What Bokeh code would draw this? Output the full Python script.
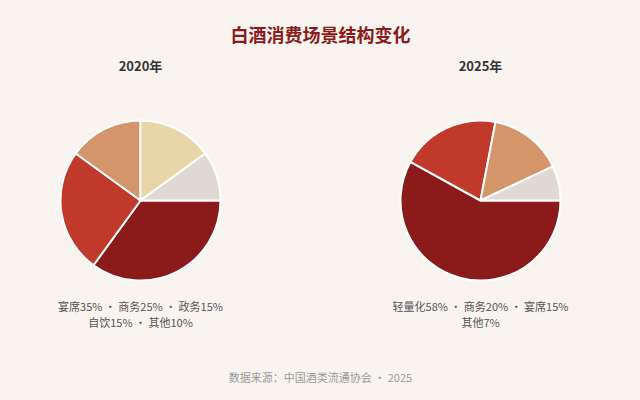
import math
from bokeh.plotting import figure
from bokeh.models import Range1d, ColumnDataSource
from bokeh.core.properties import value
from bokeh.embed import file_html
from bokeh.resources import INLINE

# ---- data ----
title_text = "白酒消费场景结构变化"
source_text = "数据来源：中国酒类流通协会 · 2025"

years = ["2020年", "2025年"]
cats_2020 = ["宴席", "商务", "政务", "自饮", "其他"]
vals_2020 = [35, 25, 15, 15, 10]
colors_2020 = ["#8b1a1a", "#c0392b", "#d4956b", "#e8d5a8", "#e0d8d2"]

cats_2025 = ["轻量化", "商务", "宴席", "其他"]
vals_2025 = [58, 20, 15, 7]
colors_2025 = ["#8b1a1a", "#c0392b", "#d4956b", "#e0d8d2"]

BG = "#f9f4f0"
FONT = "Noto Sans CJK SC"
W, H = 624, 384

p = figure(width=W, height=H, output_backend="svg", toolbar_location=None,
           x_range=Range1d(0, W), y_range=Range1d(0, H), min_border=0)
p.axis.visible = False
p.grid.visible = False
p.outline_line_color = None
p.background_fill_color = BG
p.border_fill_color = BG

def Y(page_y):
    return H - page_y

def X(page_x):
    return page_x

def add_pie(cx, cy, cats, vals, colors):
    total = float(sum(vals))
    starts, ends = [], []
    cum = 0.0
    for v in vals:
        a0 = cum / total * 2 * math.pi
        cum += v
        a1 = cum / total * 2 * math.pi
        # clockwise from 3 o'clock
        starts.append(-a1)
        ends.append(-a0)
    src = ColumnDataSource(dict(x=[cx] * len(vals), y=[cy] * len(vals),
                                s=starts, e=ends, c=colors))
    p.wedge(x="x", y="y", radius=80, radius_units="screen",
            start_angle="s", end_angle="e", direction="anticlock",
            fill_color="c", line_color="#ffffff", line_width=2, source=src)

def label_lines(cats, vals, first=3):
    parts = [f"{c}{v}%" for c, v in zip(cats, vals)]
    return [" · ".join(parts[:first]), " · ".join(parts[first:])]

add_pie(X(140), Y(200), cats_2020, vals_2020, colors_2020)
add_pie(X(480), Y(200), cats_2025, vals_2025, colors_2025)

# title
p.text(x=[X(320)], y=[Y(33)], text=[title_text], text_align="center",
       text_baseline="middle", text_font=value(FONT), text_font_style="bold",
       text_font_size="18px", text_color="#8b1a1a")

# subtitles
p.text(x=[X(140), X(480)], y=[Y(65), Y(65)], text=years, text_align="center",
       text_baseline="middle", text_font=value(FONT), text_font_style="bold",
       text_font_size="13px", text_color="#333333")

l20 = label_lines(cats_2020, vals_2020)
l25 = label_lines(cats_2025, vals_2025)
p.text(x=[X(140), X(140), X(480), X(480)],
       y=[Y(305), Y(321), Y(305), Y(321)],
       text=[l20[0], l20[1], l25[0], l25[1]], text_align="center",
       text_baseline="middle", text_font=value(FONT),
       text_font_size="11px", text_color="#555555")

p.text(x=[X(320)], y=[Y(376)], text=[source_text], text_align="center",
       text_baseline="middle", text_font=value(FONT),
       text_font_size="11px", text_color="#999999")

html = file_html(p, INLINE)
html = html.replace("<head>", "<head><style>body{background:%s;}</style>" % BG, 1)
open("out.html", "w").write(html)
